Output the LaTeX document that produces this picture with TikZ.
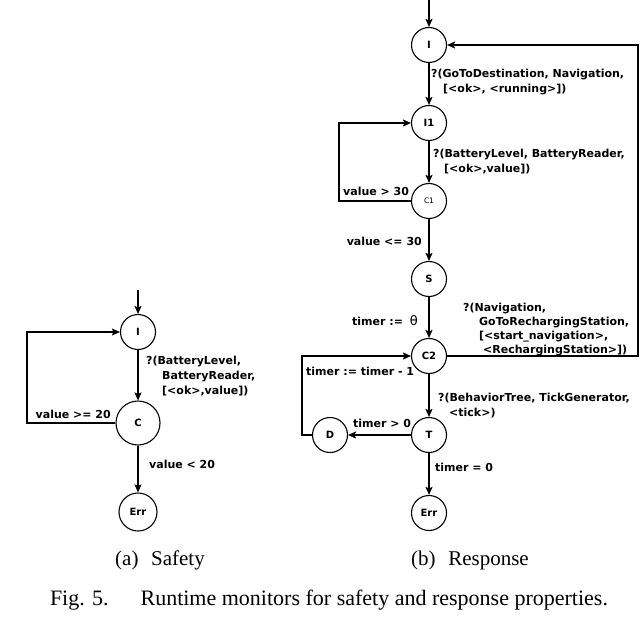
\documentclass[tikz,border=0pt]{standalone}
\usepackage{fontspec}
\setmainfont{Liberation Serif}
\newfontfamily\lblfont{DejaVu Sans}
\usetikzlibrary{arrows.meta}
\begin{document}
\begin{tikzpicture}[x=1pt,y=-1pt,
  st/.style={circle,draw,line width=1.1pt,minimum size=35pt,inner sep=0pt,
    font=\lblfont\bfseries\fontsize{10}{11}\selectfont},
  tr/.style={line width=1.1pt,-{Stealth[length=8pt,width=7pt,inset=1.5pt]}},
  lbl/.style={font=\lblfont\bfseries\fontsize{11}{15}\selectfont,inner sep=0pt,align=left},
  captxt/.style={font=\fontsize{21}{24}\selectfont,inner sep=0pt}]
\useasboundingbox (0,0) rectangle (640,644);

% ---------- (a) Safety ----------
\coordinate (inA) at (138,290);
\node[st] (Ia) at (138,332) {I};
\node[st,minimum size=44pt] (Ca) at (138,423) {C};
\node[st,minimum size=38pt] (Ea) at (138,512) {Err};
\coordinate (lxA) at (27,0);

\draw[tr] (inA) -- (Ia);
\draw[tr] (Ia) -- (Ca);
\draw[tr] (Ca) -- (Ea);
\draw[tr] (Ca.west) -- (Ca.west -| lxA) |- (Ia.west);

\node[lbl,anchor=north west] (la1) at (146,356) {?(BatteryLevel,\\\hspace*{16pt}BatteryReader,\\\hspace*{16pt}[<ok>,value])};
\node[lbl,anchor=east] (la2) at (111,414) {value >= 20};
\node[lbl,anchor=west] (la3) at (149,464) {value < 20};

% ---------- (b) Response ----------
\coordinate (inB) at (429,0);
\node[st] (I) at (429,45) {I};
\node[st] (I1) at (429,123) {I1};
\node[st,font=\lblfont\fontsize{7.5}{8}\selectfont] (C1) at (429,201) {C1};
\node[st] (S) at (429,279) {S};
\node[st] (C2) at (429,356) {C2};
\node[st] (T) at (429,435) {T};
\node[st] (D) at (330,435) {D};
\node[st] (Eb) at (429,513) {Err};
\coordinate (rx) at (638,0);
\coordinate (c1x) at (339,0);
\coordinate (dx) at (302,0);

\draw[tr] (inB) -- (I);
\draw[tr] (I) -- (I1);
\draw[tr] (I1) -- (C1);
\draw[tr] (C1) -- (S);
\draw[tr] (S) -- (C2);
\draw[tr] (C2) -- (T);
\draw[tr] (T) -- (Eb);
\draw[tr] (T) -- (D);
\draw[tr] (C2.east) -- (C2.east -| rx) |- (I.east);
\draw[tr] (C1.west) -- (C1.west -| c1x) |- (I1.west);
\draw[tr] (D.west) -- (D.west -| dx) |- (C2.west);

\node[lbl,anchor=north west] (lb1) at (431,69) {?(GoToDestination, Navigation,\\\hspace*{12pt}[<ok>, <running>])};
\node[lbl,anchor=north west] (lb2) at (433,149) {?(BatteryLevel, BatteryReader,\\\hspace*{11pt}[<ok>,value])};
\node[lbl,anchor=west] (lb3) at (343,191) {value > 30};
\node[lbl,anchor=east] (lb4) at (422,241) {value <= 30};
\node[lbl,anchor=west] (lb5) at (352,321) {timer := \hspace{3pt}{\mdseries\fontsize{13}{14}\selectfont θ}};
\node[lbl,anchor=north west,font=\lblfont\bfseries\fontsize{11}{14}\selectfont] (lb6) at (463,303) {?(Navigation,\\\hspace*{16pt}GoToRechargingStation,\\\hspace*{16pt}[<start\_navigation>,\\\hspace*{20pt}<RechargingStation>])};
\node[lbl,anchor=west] (lb7) at (306,371) {timer := timer - 1};
\node[lbl,anchor=north west] (lb8) at (438,393) {?(BehaviorTree, TickGenerator,\\\hspace*{11pt}<tick>)};
\node[lbl,anchor=west] (lb9) at (353,423) {timer > 0};
\node[lbl,anchor=west] (lb10) at (435,467) {timer = 0};

% ---------- captions ----------
\node[captxt] (capa) at (160,560) {(a)\hspace{0.6em}Safety};
\node[captxt] (capb) at (470,560) {(b)\hspace{0.6em}Response};
\node[captxt,font=\fontsize{22}{24}\selectfont] (capf) at (329,600) {Fig. 5.\hspace{1.45em}Runtime monitors for safety and response properties.};
\end{tikzpicture}
\end{document}
